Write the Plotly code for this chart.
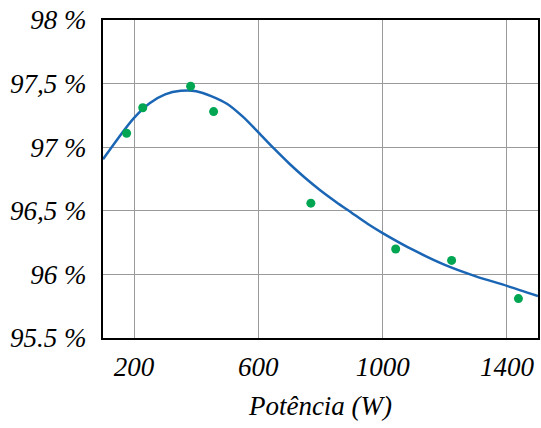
import plotly.graph_objects as go

# Measured efficiency points
power_meas = [176, 228, 382, 456, 769, 1042, 1222, 1437]
eff_meas = [97.11, 97.31, 97.48, 97.28, 96.56, 96.20, 96.11, 95.81]

# Fitted efficiency curve
power_fit = [100, 150, 200, 250, 300, 350, 400, 450, 500, 550, 600, 650, 700, 750, 800, 850, 900, 950, 1000, 1100, 1200, 1300, 1400, 1500]
eff_fit = [96.905, 97.075, 97.23, 97.345, 97.415, 97.443, 97.44, 97.40, 97.34, 97.24, 97.117, 96.99, 96.87, 96.76, 96.66, 96.57, 96.485, 96.40, 96.325, 96.19, 96.075, 95.985, 95.91, 95.83]

x_ticks = [200, 600, 1000, 1400]
x_ticktext = ["200", "600", "1000", "1400"]
y_ticks = [95.5, 96, 96.5, 97, 97.5, 98]
y_ticktext = ["95.5 %", "96 %", "96,5 %", "97 %", "97,5 %", "98 %"]

FONT = "Liberation Serif, Times New Roman, serif"
FS = 27
tick_font = dict(family=FONT, size=FS, color="black", style="italic")

fig = go.Figure()
fig.add_trace(go.Scatter(x=power_fit, y=eff_fit, mode="lines",
                         line=dict(color="#1a66b5", width=2.5, shape="spline", smoothing=0.7),
                         showlegend=False, hoverinfo="skip"))
fig.add_trace(go.Scatter(x=power_meas, y=eff_meas, mode="markers",
                         marker=dict(color="#00a651", size=9),
                         showlegend=False))

fig.update_layout(
    width=541, height=428,
    margin=dict(l=103, r=1, t=20, b=90),
    paper_bgcolor="white", plot_bgcolor="white",
    font=dict(family=FONT, size=FS, color="black", style="italic"),
    xaxis=dict(range=[100, 1500], tickmode="array", tickvals=x_ticks, ticktext=x_ticktext,
               showgrid=True, gridcolor="#9a9a9a", gridwidth=1,
               showline=True, linecolor="black", linewidth=2, mirror=True,
               ticks="", ticklabelstandoff=4, zeroline=False,
               tickfont=tick_font,
               title=dict(text="Potência (W)", standoff=15, font=tick_font)),
    yaxis=dict(range=[95.5, 98], tickmode="array", tickvals=y_ticks, ticktext=y_ticktext,
               showgrid=True, gridcolor="#9a9a9a", gridwidth=1,
               showline=True, linecolor="black", linewidth=2, mirror=True,
               ticks="", ticklabelstandoff=9, zeroline=False,
               tickfont=tick_font),
)

fig.write_html("out.html")
